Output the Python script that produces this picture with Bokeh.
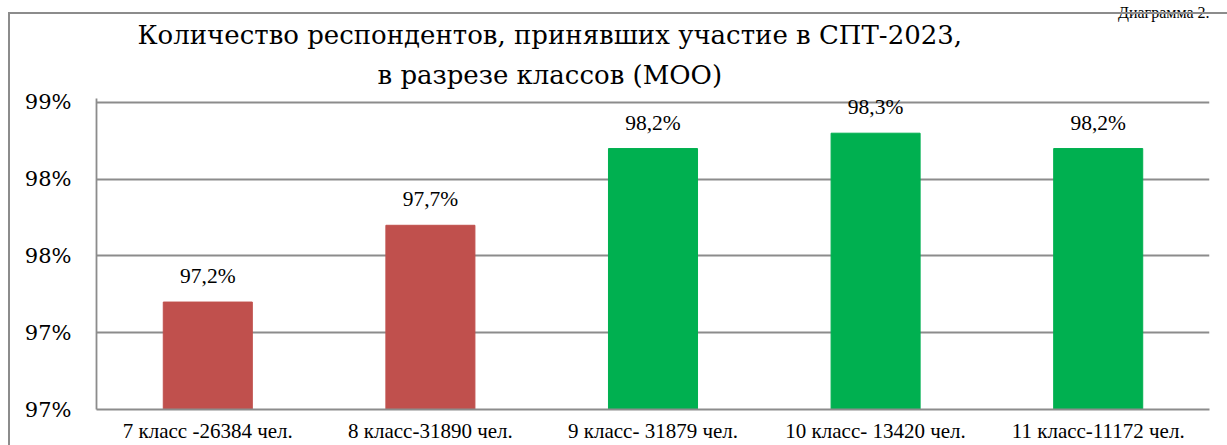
from bokeh.plotting import figure
from bokeh.models import (ColumnDataSource, Range1d, FixedTicker, LabelSet, Title,
                          FactorRange, InlineStyleSheet)
from bokeh.embed import file_html
from bokeh.resources import INLINE

categories = ["7 класс -26384 чел.", "8 класс-31890 чел.", "9 класс- 31879 чел.",
              "10 класс- 13420 чел.", "11 класс-11172 чел."]
values = [97.2, 97.7, 98.2, 98.3, 98.2]
colors = ["#C0504D", "#C0504D", "#00B050", "#00B050", "#00B050"]
y_ticks = [96.5, 97.0, 97.5, 98.0, 98.5]
y_tick_labels = ["97%", "97%", "98%", "98%", "99%"]
title_lines = ["Количество респондентов, принявших участие в СПТ-2023,",
               "в разрезе классов (МОО)"]
corner_text = "Диаграмма 2."

FONT = "'Liberation Serif', serif"
BIG = "'DejaVu Serif', serif"
GRID = "#8c8c8c"
W, H = 1227, 445

labels = [f"{v:.1f}".replace(".", ",") + "%" for v in values]
src = ColumnDataSource(dict(cat=categories, val=values, color=colors, label=labels,
                            bottom=[y_ticks[0]] * len(values)))

p = figure(x_range=FactorRange(*categories), y_range=Range1d(y_ticks[0], 98.526),
           width=W, height=H, output_backend="svg", toolbar_location=None,
           min_border_left=96, min_border_right=18, min_border_top=98, min_border_bottom=35)
p.x_range.range_padding = 0
p.vbar(x="cat", top="val", bottom="bottom", width=0.4, color="color", source=src)

p.outline_line_color = None
p.xgrid.grid_line_color = None
p.ygrid.grid_line_color = GRID
p.ygrid.grid_line_width = 1.8
p.ygrid.ticker = FixedTicker(ticks=y_ticks)

p.yaxis.ticker = FixedTicker(ticks=y_ticks)
p.yaxis.major_label_overrides = {t: l for t, l in zip(y_ticks, y_tick_labels)}
p.yaxis.major_tick_out = 0
p.yaxis.major_tick_in = 0
p.yaxis.minor_tick_out = 0
p.yaxis.minor_tick_in = 0
p.yaxis.axis_line_color = GRID
p.yaxis.axis_line_width = 1.8
p.yaxis.major_label_standoff = 25
p.yaxis.major_label_text_font = BIG
p.yaxis.major_label_text_font_size = "21px"
p.yaxis.major_label_text_color = "black"

p.xaxis.major_tick_out = 0
p.xaxis.major_tick_in = 0
p.xaxis.axis_line_color = GRID
p.xaxis.axis_line_width = 1.8
p.xaxis.major_label_standoff = 9
p.xaxis.major_label_text_font = FONT
p.xaxis.major_label_text_font_size = "21px"
p.xaxis.major_label_text_color = "black"

p.add_layout(LabelSet(x="cat", y="val", text="label", source=src, y_offset=19,
                      text_align="center", text_baseline="alphabetic",
                      text_font=BIG, text_font_size="21.5px", text_color="black"))

p.add_layout(Title(text=title_lines[1], align="left", offset=281, standoff=18,
                   text_font=BIG, text_font_size="26px", text_font_style="normal",
                   text_color="black"), "above")
p.add_layout(Title(text=title_lines[0], align="left", offset=41, standoff=-2,
                   text_font=BIG, text_font_size="26px", text_font_style="normal",
                   text_color="black"), "above")
p.add_layout(Title(text=corner_text, align="right", offset=0, standoff=-4,
                   text_font=FONT, text_font_size="16px", text_font_style="normal",
                   text_color="black"), "above")

p.stylesheets = [InlineStyleSheet(css=(
    ":host { position: relative; }"
    ":host::after { content: ''; position: absolute; left: 8px; top: 12px; right: 0; bottom: 0;"
    " border-left: 2px solid #8c8c8c; border-top: 2px solid #8c8c8c; pointer-events: none; }"))]

open("out.html", "w").write(file_html(p, INLINE))
